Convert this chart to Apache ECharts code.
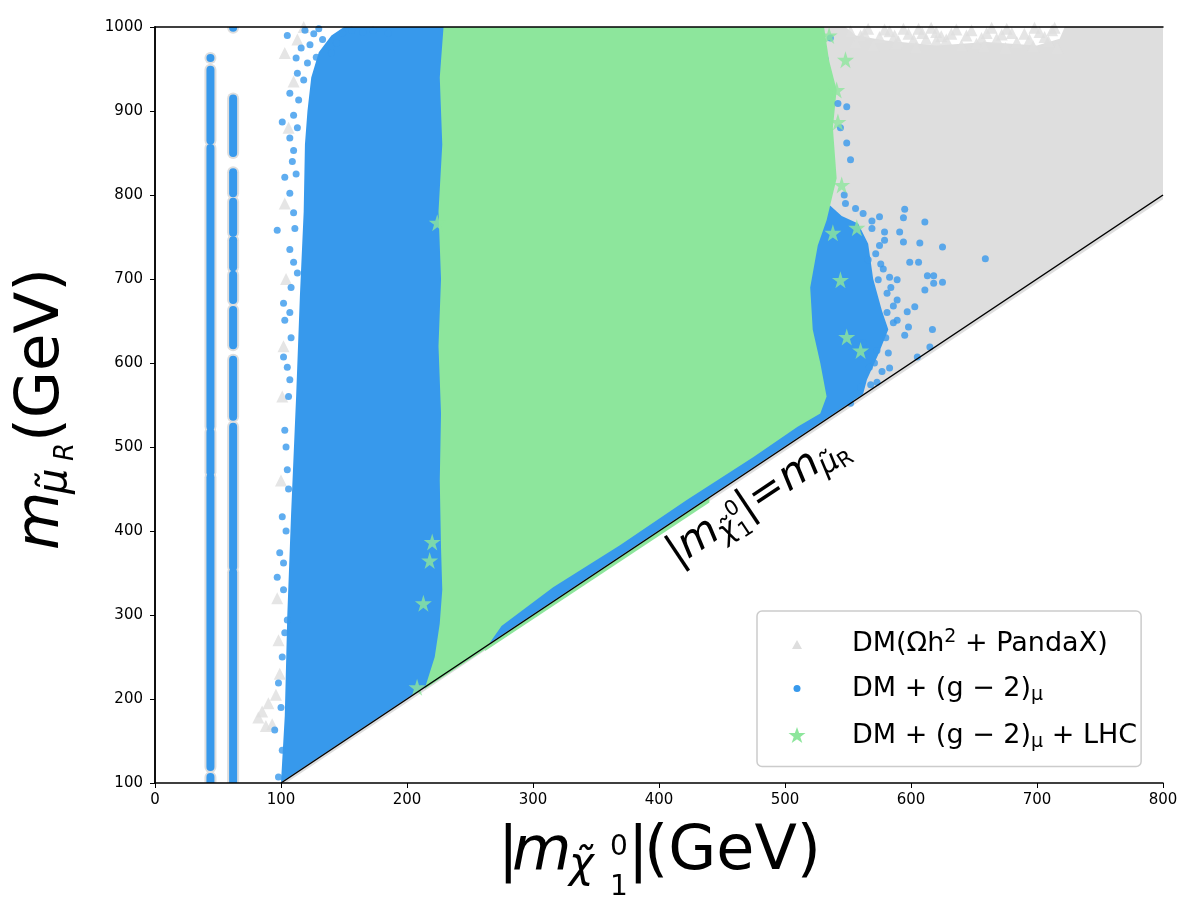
<!DOCTYPE html>
<html>
<head>
<meta charset="utf-8">
<script src="https://cdn.jsdelivr.net/npm/echarts/dist/echarts.min.js"></script>
<style>
  html, body { margin: 0; padding: 0; background: #fff; }
  #chart { width: 1200px; height: 900px; }
</style>
</head>
<body>
<div id="chart"></div>
<script>
// axis ticks
var xTicks = [0, 800, 100];
var yTicks = [100, 1000, 100];

// outlines of the dense regions [m_chi, m_mu]
var dmRegion = [[100, 96], [800, 795], [800, 1000], [722, 1000], [718, 986], [700, 978], [660, 982],
  [620, 978], [580, 984], [556, 990], [548, 1000], [152, 1000], [141, 990], [131, 970], [125, 940],
  [122, 900], [120, 860], [119, 780], [116, 680], [113, 560], [109, 420], [106, 300], [104, 180]];

var g2Region = [[100, 101], [103, 180], [105, 300], [108, 420], [112, 560], [115, 680], [118, 780],
  [119, 860], [121, 900], [124, 940], [130, 970], [140, 990], [150, 1000], [528, 1000], [535, 960],
  [532, 900], [536, 820], [534, 790], [545, 775], [558, 766], [566, 742], [570, 700], [577, 662],
  [582, 640], [574, 610], [565, 580], [562, 563]];

var lhcRegion = [[229, 1000], [226, 940], [228, 860], [225, 780], [227, 700], [225, 620], [227, 540],
  [226, 460], [227, 380], [228, 330], [226, 290], [222, 250], [214, 212], [262, 259], [275, 287],
  [316, 333], [369, 383], [422, 437], [475, 488], [510, 524], [528, 540], [533, 560], [528, 600],
  [522, 640], [520, 690], [526, 740], [533, 770], [541, 820], [538, 880], [541, 925], [535, 960],
  [531, 1000]];

var lhcSliver = [[262, 257], [440, 434], [440, 440], [262, 262]];

// the two thin columns of points near m_chi ~ m_Z/2 and m_h/2: [x, yFrom, yTo]
var stripLeft = [[44, 100, 107], [44, 119, 464], [44, 470, 518], [44, 524, 856], [44, 865, 949], [44, 963, 963]];
var stripRight = [[62, 100, 351], [62, 357, 524], [62, 536, 604], [62, 621, 663], [62, 675, 705],
  [62, 714, 746], [62, 755, 792], [62, 802, 827], [62, 850, 915], [62, 999, 999]];

// loose points
var dmPoints = [[85, 185], [90, 195], [82, 178], [93, 170], [96, 205], [88, 168], [99, 230], [98, 270],
  [97, 320], [100, 460], [101, 560], [102, 620], [104, 700], [103, 790], [106, 880], [110, 935],
  [113, 985], [118, 1000], [103, 969],
  [552, 995], [560, 990], [566, 998], [575, 988], [583, 995], [590, 983], [598, 992], [606, 998],
  [612, 986], [620, 994], [628, 985], [636, 997], [644, 990], [652, 980], [660, 993], [668, 986],
  [676, 998], [684, 982], [690, 992], [698, 999], [706, 988], [712, 996], [716, 975], [570, 978],
  [604, 976], [640, 978], [675, 975], [556, 982], [563, 993], [579, 997], [587, 990], [594, 998],
  [602, 985], [609, 993], [616, 999], [624, 989], [632, 992], [648, 996], [656, 987], [664, 999],
  [672, 991], [680, 993], [694, 985], [702, 994], [709, 983], [714, 999], [620, 984], [588, 980],
  [658, 977], [697, 977]];

var g2Points = [[105, 990], [119, 996], [123, 979], [121, 957], [113, 945], [118, 937], [107, 921],
  [101, 887], [107, 868], [110, 853], [103, 821], [107, 802], [97, 758], [110, 779], [107, 735],
  [113, 707], [102, 671], [107, 660], [103, 651], [102, 607], [105, 595], [106, 560], [103, 520],
  [105, 473], [101, 417], [99, 374], [97, 345], [102, 362], [105, 294], [103, 279], [98, 219],
  [95, 163], [101, 139], [98, 107],
  [133, 985], [140, 969], [149, 993], [156, 996], [165, 994], [173, 996], [185, 993], [128, 964],
  [144, 981], [112, 963], [116, 975], [126, 992], [130, 998], [114, 913], [110, 895], [113, 880],
  [109, 840], [112, 825], [111, 760], [110, 720], [108, 690], [108, 630], [107, 580], [104, 500],
  [106, 450], [104, 400], [102, 330], [101, 250], [100, 190],
  [595, 783], [575, 774], [611, 768], [594, 773], [569, 769], [579, 756], [591, 756], [569, 760],
  [579, 746], [594, 744], [607, 743], [625, 738], [659, 724], [599, 720], [606, 720], [613, 704],
  [618, 704], [625, 696], [618, 695], [611, 687], [603, 667], [597, 661], [598, 643], [617, 640],
  [615, 619], [605, 607], [595, 633], [589, 651], [581, 660], [574, 699], [583, 702], [589, 699],
  [566, 723], [581, 683], [589, 675], [582, 612], [583, 594], [573, 577], [560, 571], [552, 552],
  [567, 595], [573, 615], [562, 624], [552, 842], [549, 862], [548, 790], [542, 909], [549, 905],
  [536, 987], [544, 880], [572, 730], [576, 718], [584, 690], [586, 668], [580, 630], [571, 600],
  [562, 778], [556, 784], [547, 800], [575, 740], [578, 712], [586, 648], [577, 590], [568, 574]];

var lhcPoints = [[220, 387], [218, 365], [213, 314], [208, 214], [224, 767], [548, 961], [541, 925],
  [545, 812], [557, 761], [544, 699], [549, 631], [560, 615], [538, 755], [542, 887], [535, 990]];

var diagonal = [[100, 100], [800, 800]];

var colDM = '#dedede', colG2 = '#3799ec', colLHC = '#8de69c';
var FONT = 'DejaVu Sans';

var nameDM = 'DM', nameG2 = 'DM+g2', nameLHC = 'DM+g2+LHC';
var legendLabels = {};
legendLabels[nameDM] = '{a|DM(Ωh}{sup|2}{a| + PandaX)}';
legendLabels[nameG2] = '{a|DM + (g − 2)}{sub|μ}';
legendLabels[nameLHC] = '{a|DM + (g − 2)}{sub|μ}{a| + LHC}';

var starPath = 'path://M50,0L61,35L98,35L68,57L79,91L50,70L21,91L32,57L2,35L39,35Z';

function regionSeries(name, pts, color) {
  return {
    name: name, type: 'custom', silent: true, clip: true,
    itemStyle: { color: color },
    data: pts,
    renderItem: function (params, api) {
      if (params.dataIndex !== 0) return null;
      return {
        type: 'polygon',
        shape: { points: pts.map(function (p) { return api.coord(p); }) },
        style: { fill: color }
      };
    }
  };
}

function stripSeries(name, segs, color, w) {
  return {
    name: name, type: 'custom', silent: true, clip: true,
    itemStyle: { color: color },
    data: segs,
    renderItem: function (params, api) {
      var top = api.coord([api.value(0), api.value(2)]);
      var bot = api.coord([api.value(0), api.value(1)]);
      return {
        type: 'rect',
        shape: { x: top[0] - w / 2, y: top[1] - w / 2, width: w, height: bot[1] - top[1] + w, r: w / 2 },
        style: { fill: color }
      };
    }
  };
}

function txt(x, y, s, size, italic) {
  return {
    type: 'text', x: x, y: y,
    style: {
      text: s, fill: '#000', fontFamily: FONT, fontSize: size,
      fontStyle: italic ? 'italic' : 'normal', align: 'left', verticalAlign: 'middle'
    }
  };
}

var chart = echarts.init(document.getElementById('chart'));

var option = {
  animation: false,
  backgroundColor: '#fff',
  grid: { left: 155, right: 37, top: 27, bottom: 117 },
  xAxis: [{
    type: 'value', min: xTicks[0], max: xTicks[1], interval: xTicks[2], z: 10,
    splitLine: { show: false },
    axisLine: { lineStyle: { color: '#000', width: 1.5 } },
    axisTick: { show: true, inside: false, length: 5, lineStyle: { color: '#000' } },
    axisLabel: { fontFamily: FONT, fontSize: 15, color: '#000', margin: 10, formatter: '{value}' }
  }, {
    type: 'value', position: 'top', min: xTicks[0], max: xTicks[1], z: 10,
    splitLine: { show: false }, axisTick: { show: false }, axisLabel: { show: false },
    axisLine: { show: true, lineStyle: { color: '#000', width: 1.5 } }
  }],
  yAxis: [{
    type: 'value', min: yTicks[0], max: yTicks[1], interval: yTicks[2], z: 10,
    splitLine: { show: false },
    axisLine: { show: true, lineStyle: { color: '#000', width: 1.5 } },
    axisTick: { show: true, inside: false, length: 5, lineStyle: { color: '#000' } },
    axisLabel: {
      fontFamily: FONT, fontSize: 15, color: '#000', margin: 12,
      formatter: function (v) { return String(v); }
    }
  }, {
    type: 'value', position: 'right', min: yTicks[0], max: yTicks[1], z: 10,
    splitLine: { show: false }, axisTick: { show: false }, axisLabel: { show: false },
    axisLine: { show: true, lineStyle: { color: '#000', width: 1.5 } }
  }],
  legend: {
    data: [
      { name: nameDM, icon: 'path://M0,0M59,18M4,14L9,5L14,14Z' },
      { name: nameG2, icon: 'path://M0,0M59,18M5.5,9A3.5,3.5 0 1 1 12.5,9A3.5,3.5 0 1 1 5.5,9Z' },
      { name: nameLHC, icon: 'path://M0,0M59,18M9,0.5L11.1,6.6L17.5,6.6L12.3,10.4L14.3,16.5L9,12.7L3.7,16.5L5.7,10.4L0.5,6.6L6.9,6.6Z' }
    ],
    orient: 'vertical', left: 757, top: 611,
    padding: [17, 4, 15, 31], itemGap: 17.5, itemWidth: 59, itemHeight: 18,
    backgroundColor: '#fff', borderColor: '#cccccc', borderWidth: 1.5, borderRadius: 5,
    selectedMode: false, z: 20,
    formatter: function (n) { return legendLabels[n]; },
    textStyle: {
      fontFamily: FONT, fontSize: 27, color: '#000',
      rich: {
        a: { fontFamily: FONT, fontSize: 27, lineHeight: 32, color: '#000' },
        sup: { fontFamily: FONT, fontSize: 19, lineHeight: 19, verticalAlign: 'top', color: '#000' },
        sub: { fontFamily: FONT, fontSize: 19, lineHeight: 19, verticalAlign: 'bottom', color: '#000' }
      }
    }
  },
  series: [
    regionSeries(nameDM, dmRegion, colDM),
    stripSeries(nameDM, stripLeft, colDM, 12),
    stripSeries(nameDM, stripRight, colDM, 12),
    {
      name: nameDM, type: 'scatter', symbol: 'triangle', symbolSize: 12, silent: true,
      itemStyle: { color: colDM }, data: dmPoints
    },
    regionSeries(nameG2, g2Region, colG2),
    stripSeries(nameG2, stripLeft, colG2, 8),
    stripSeries(nameG2, stripRight, colG2, 8),
    {
      name: nameG2, type: 'scatter', symbol: 'circle', symbolSize: 7, silent: true,
      itemStyle: { color: colG2 }, data: g2Points
    },
    regionSeries(nameLHC, lhcRegion, colLHC),
    regionSeries(nameLHC, lhcSliver, colLHC),
    {
      name: nameLHC, type: 'scatter', symbol: starPath, symbolSize: 17, silent: true,
      itemStyle: { color: colLHC }, data: lhcPoints
    },
    {
      name: 'diag', type: 'line', data: diagonal, symbol: 'none', silent: true, z: 5,
      lineStyle: { color: '#000', width: 1.5 }
    }
  ],
  graphic: [
    // x axis title |m_chi10|(GeV)
    txt(498, 853, '|', 61, false),
    txt(512, 853, 'm', 61, true),
    txt(569, 866, 'χ\u0303', 42, true),
    txt(610, 848, '0', 28, false),
    txt(610, 888, '1', 28, false),
    txt(628, 853, '|', 61, false),
    txt(644, 853, '(GeV)', 62, false),
    // y axis title m_mu_R(GeV), rotated
    {
      type: 'group', x: 0, y: 548, rotation: Math.PI / 2,
      children: [
        txt(-2, 42, 'm', 60, true),
        txt(54, 56, 'μ\u0303', 40, true),
        txt(87, 66, 'R', 26, true),
        txt(106, 42, '(GeV)', 61, false)
      ]
    },
    // label on the diagonal
    {
      type: 'group', x: 679, y: 569, rotation: 0.588,
      children: [
        txt(0, -14, '|', 42, false),
        txt(13, -14, 'm', 42, true),
        txt(53, -4, 'χ\u0303', 29, true),
        txt(71, -20, '0', 21, false),
        txt(71, 5, '1', 21, false),
        txt(84, -14, '|', 42, false),
        txt(98, -14, '=', 42, false),
        txt(134, -14, 'm', 42, true),
        txt(174, -4, 'μ\u0303', 29, true),
        txt(192, 2, 'R', 21, false)
      ]
    }
  ]
};

chart.setOption(option);
</script>
</body>
</html>
